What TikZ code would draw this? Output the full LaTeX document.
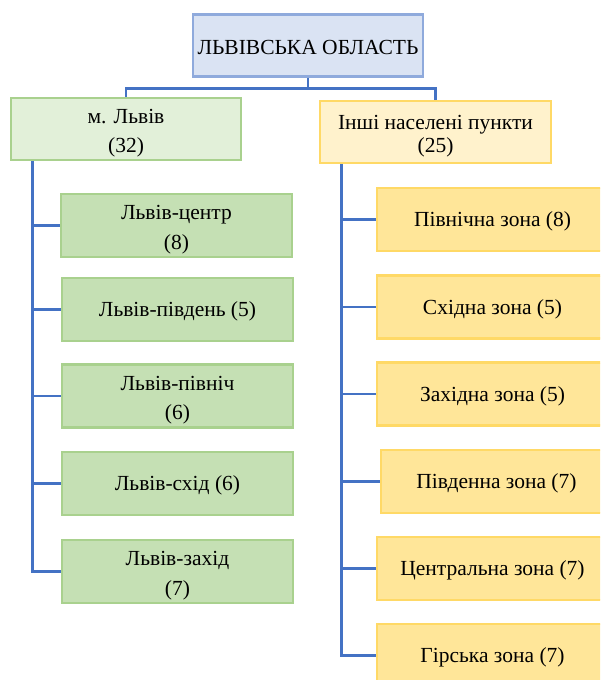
\documentclass[tikz,border=0pt]{standalone}
\usepackage{fontspec}
\setmainfont{Liberation Serif}
\definecolor{conn}{HTML}{4472C4}
\definecolor{topfill}{HTML}{DAE3F3}
\definecolor{topline}{HTML}{8FAADC}
\definecolor{lgfill}{HTML}{E2F0D9}
\definecolor{gfill}{HTML}{C5E0B4}
\definecolor{gline}{HTML}{A9D18E}
\definecolor{lyfill}{HTML}{FFF2CC}
\definecolor{yfill}{HTML}{FFE699}
\definecolor{yline}{HTML}{FFD966}
\newcommand{\dn}[1]{\rule{0pt}{#1}}
\tikzset{
  box/.style={rectangle, line width=2.4pt, minimum width=230pt, minimum height=62pt,
    inner sep=0pt, align=center, font=\rmfamily\fontsize{21.5}{29.5}\selectfont},
  topbox/.style={box, fill=topfill, draw=topline},
  citybox/.style={box, fill=lgfill, draw=gline},
  greenbox/.style={box, fill=gfill, draw=gline, minimum width=231pt, minimum height=63pt},
  otherbox/.style={box, fill=lyfill, draw=yline, minimum width=231pt},
  yellowbox/.style={box, fill=yfill, draw=yline, minimum width=231pt, minimum height=63pt},
  link/.style={draw=conn, line width=2.8pt}
}
\begin{document}
\begin{tikzpicture}[x=1pt, y=-1pt]
\useasboundingbox (0,0) rectangle (600,680);
\clip (0,0) rectangle (600,680);

\node[topbox] (top) at (308,45.5) {\dn{18pt}ЛЬВІВСЬКА ОБЛАСТЬ};
\node[citybox] (lviv) at (126,129) {\dn{23pt}м. Львів\\(32)};
\node[otherbox, font=\rmfamily\fontsize{21.5}{23.5}\selectfont] (inshi) at (435.5,132) {\dn{23pt}Інші населені пункти\\(25)};

\node[greenbox] (g1) at (176.5,225.5) {\dn{23pt}Львів-центр\\(8)};
\node[greenbox] (g2) at (177.5,309.5) {\dn{19pt}Львів-південь (5)};
\node[greenbox] (g3) at (177.5,396) {\dn{23pt}Львів-північ\\(6)};
\node[greenbox] (g4) at (177.5,483.5) {\dn{19pt}Львів-схід (6)};
\node[greenbox] (g5) at (177.5,571.5) {\dn{23pt}Львів-захід\\(7)};

\node[yellowbox] (y1) at (492.5,219.5) {\dn{19pt}Північна зона (8)};
\node[yellowbox] (y2) at (492.5,307) {\dn{19pt}Східна зона (5)};
\node[yellowbox] (y3) at (492.5,394) {\dn{19pt}Західна зона (5)};
\node[yellowbox] (y4) at (496.5,481.5) {\dn{19pt}Південна зона (7)};
\node[yellowbox] (y5) at (492.5,568.5) {\dn{19pt}Центральна зона (7)};
\node[yellowbox] (y6) at (492.5,655.5) {\dn{19pt}Гірська зона (7)};

\coordinate (mid) at ([yshift=-11pt]top.south);
\draw[link] (top.south) -- (mid) -| (lviv.north);
\draw[link] (mid) -| (inshi.north);

\coordinate (lt) at ([xshift=23pt]lviv.south west);
\draw[link] (lt) |- (g5.west);
\foreach \g in {g1,g2,g3,g4} \draw[link] (\g.west) -- (\g.west -| lt);

\coordinate (rt) at ([xshift=23pt]inshi.south west);
\draw[link] (rt) |- (y6.west);
\foreach \g in {y1,y2,y3,y4,y5} \draw[link] (\g.west) -- (\g.west -| rt);
\end{tikzpicture}
\end{document}
